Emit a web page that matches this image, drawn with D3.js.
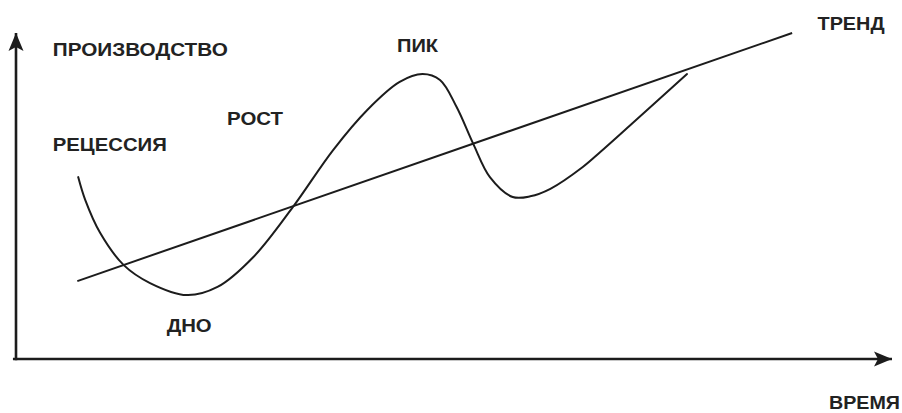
<!DOCTYPE html>
<html>
<head>
<meta charset="utf-8">
<script src="https://cdn.jsdelivr.net/npm/d3@7"></script>
<style>
  html, body { margin: 0; padding: 0; background: #ffffff; }
  svg { display: block; }
  text { font-family: "Liberation Sans", Arial, sans-serif; font-weight: bold; fill: #222222; }
</style>
</head>
<body>
<script>
// ---- Data (time 0..100, production 0..100) ----
const cycleTime = [7.1, 7.9, 9.6, 12.3, 15.3, 19.5, 23.0, 27.1, 31.6, 36.2, 40.1, 43.8, 46.4, 48.4, 50.3, 52.2, 54.1, 56.7, 58.7, 61.0, 64.7, 66.7, 70.4, 76.6];
const cycleOutput = [55.8, 48.8, 38.7, 28.8, 23.3, 19.6, 22.1, 31.3, 46.6, 64.1, 76.4, 85.0, 87.4, 85.6, 77.3, 66.0, 55.8, 49.7, 49.9, 52.2, 58.9, 63.5, 72.4, 87.4];
const trendTime = [7.0, 88.6];
const trendOutput = [23.9, 100];
const phaseLabels = ["РЕЦЕССИЯ", "ДНО", "РОСТ", "ПИК", "ТРЕНД"];
const phaseTime = [4.2, 17.2, 24.1, 43.5, 91.5];
const phaseOutput = [63.8, 8.3, 71.8, 94.2, 100.9];
const axisLabels = ["ПРОИЗВОДСТВО", "ВРЕМЯ"];
const axisLabelTime = [4.2, 92.8];
const axisLabelOutput = [92.9, -15.3];
const labelWidths = [114, 45, 56, 41, 67];
const axisLabelWidths = [175, 71];

const W = 902, H = 413;
const svg = d3.select("body").append("svg").attr("width", W).attr("height", H);

const x = d3.scaleLinear().domain([0, 100]).range([16, 892]);
const y = d3.scaleLinear().domain([0, 100]).range([359, 33]);

const ink = "#1c1c1c";

// arrowheads
const defs = svg.append("defs");
defs.append("marker")
  .attr("id", "arr").attr("viewBox", "-19 -9 21 18")
  .attr("refX", 0).attr("refY", 0)
  .attr("markerWidth", 21).attr("markerHeight", 18)
  .attr("markerUnits", "userSpaceOnUse")
  .attr("orient", "auto")
  .append("path").attr("d", "M0,0 L-18,-7.5 L-14,0 L-18,7.5 Z").attr("fill", ink);

// axes via d3 axis generators (no ticks)
const xAxis = svg.append("g").attr("transform", `translate(0,${y(0)})`)
  .call(d3.axisBottom(x).tickValues([]).tickSizeOuter(0));
xAxis.select(".domain").attr("stroke", ink).attr("stroke-width", 2.6)
  .attr("d", `M${x(-0.35)},0H${x(100)}`).attr("marker-end", "url(#arr)");

const yAxis = svg.append("g").attr("transform", `translate(${x(0)},0)`)
  .call(d3.axisLeft(y).tickValues([]).tickSizeOuter(0));
yAxis.select(".domain").attr("stroke", ink).attr("stroke-width", 2.6)
  .attr("d", `M0,${y(-0.4)}V${y(100)}`).attr("marker-end", "url(#arr)");

// trend
const trendData = trendTime.map((t, i) => [t, trendOutput[i]]);
svg.append("path").datum(trendData)
  .attr("fill", "none").attr("stroke", ink).attr("stroke-width", 2)
  .attr("d", d3.line().x(d => x(d[0])).y(d => y(d[1])));

// cycle curve
const cycleData = cycleTime.map((t, i) => [t, cycleOutput[i]]);
svg.append("path").datum(cycleData)
  .attr("fill", "none").attr("stroke", ink).attr("stroke-width", 2)
  .attr("stroke-linecap", "round")
  .attr("d", d3.line().curve(d3.curveCatmullRom.alpha(0.5)).x(d => x(d[0])).y(d => y(d[1])));

// labels
svg.selectAll("text.phase").data(phaseLabels).join("text")
  .attr("class", "phase")
  .attr("x", (d, i) => x(phaseTime[i]))
  .attr("y", (d, i) => y(phaseOutput[i]))
  .attr("font-size", 18)
  .attr("textLength", (d, i) => labelWidths[i])
  .attr("lengthAdjust", "spacingAndGlyphs")
  .text(d => d);

svg.selectAll("text.axis").data(axisLabels).join("text")
  .attr("class", "axis")
  .attr("x", (d, i) => x(axisLabelTime[i]))
  .attr("y", (d, i) => y(axisLabelOutput[i]))
  .attr("font-size", 18)
  .attr("textLength", (d, i) => axisLabelWidths[i])
  .attr("lengthAdjust", "spacingAndGlyphs")
  .text(d => d);
</script>
</body>
</html>
